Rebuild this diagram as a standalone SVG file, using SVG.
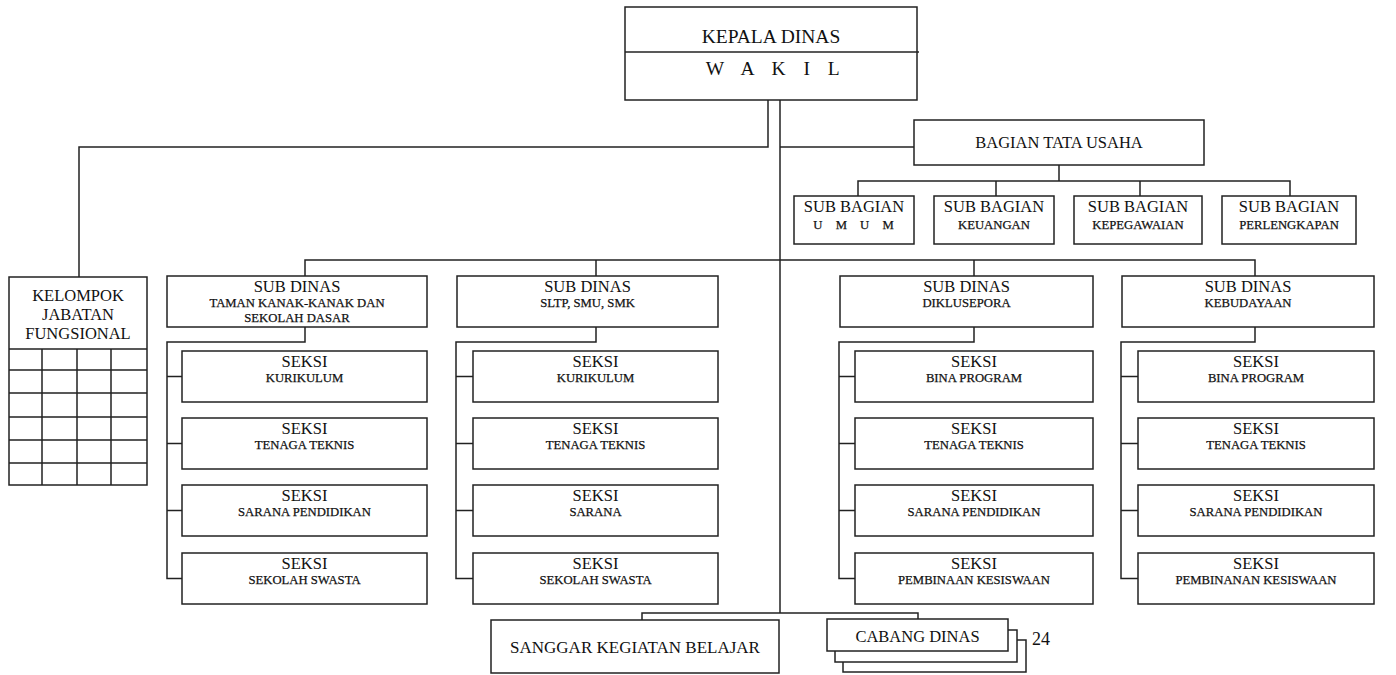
<svg xmlns="http://www.w3.org/2000/svg" width="1396" height="675" viewBox="0 0 1396 675">
<style>
.b{fill:#fff;stroke:#222;stroke-width:1.5}
.l{fill:none;stroke:#222;stroke-width:1.5}
text{font-family:"Liberation Serif","Times New Roman",serif;fill:#111;text-anchor:middle}
.t{font-size:16.5px}
.s{font-size:12.7px;stroke:#111;stroke-width:0.25}
.h{font-size:19.5px}
</style>
<rect width="1396" height="675" fill="#fff"/>
<g id="connectors" class="l">
<path d="M768 100V147H79V277"/>
<path d="M780 100V613"/>
<path d="M780 147H914"/>
<path d="M1059 165V181M858 196V181H1290V196M996 181V196M1140 181V196"/>
<path d="M305 276V260H1255V276M596 260V276M974 260V276"/>
<path d="M305 327V342H167V578.5H182M167 376.5H182M167 443.5H182M167 510.5H182"/>
<path d="M596 327V342H456V578.5H473M456 376.5H473M456 443.5H473M456 510.5H473"/>
<path d="M974 327V342H839V578.5H855M839 376.5H855M839 443.5H855M839 510.5H855"/>
<path d="M1255 327V342H1121V578.5H1138M1121 376.5H1138M1121 443.5H1138M1121 510.5H1138"/>
<path d="M642 620V613H918V619"/>
</g>
<g id="kepala">
<rect class="b" x="625" y="7" width="292" height="93"/>
<line class="l" x1="625" y1="52" x2="919" y2="52"/>
<text class="h" x="771" y="43">KEPALA DINAS</text>
<text class="h" x="776" y="75" style="letter-spacing:6.5px">W A K I L</text>
</g>
<g id="tatausaha">
<rect class="b" x="914" y="120" width="290" height="45"/>
<text class="t" x="1059" y="148">BAGIAN TATA USAHA</text>
</g>
<g id="sb-umum">
<rect class="b" x="794" y="196" width="120" height="48"/>
<text class="t" x="854" y="212">SUB BAGIAN</text>
<text class="s" x="856" y="229" style="letter-spacing:5px">U M U M</text>
</g>
<g id="sb-keuangan">
<rect class="b" x="934" y="196" width="120" height="48"/>
<text class="t" x="994" y="212">SUB BAGIAN</text>
<text class="s" x="994" y="229">KEUANGAN</text>
</g>
<g id="sb-kepegawaian">
<rect class="b" x="1074" y="196" width="128" height="48"/>
<text class="t" x="1138" y="212">SUB BAGIAN</text>
<text class="s" x="1138" y="229">KEPEGAWAIAN</text>
</g>
<g id="sb-perlengkapan">
<rect class="b" x="1222" y="196" width="134" height="48"/>
<text class="t" x="1289" y="212">SUB BAGIAN</text>
<text class="s" x="1289" y="229">PERLENGKAPAN</text>
</g>
<g id="kelompok">
<rect class="b" x="9" y="277" width="138" height="208"/>
<path class="l" d="M9 349H147M9 370H147M9 393H147M9 417H147M9 440H147M9 463H147M42 349V485M77 349V485M111 349V485"/>
<text class="t" x="78" y="301">KELOMPOK</text>
<text class="t" x="78" y="320">JABATAN</text>
<text class="t" x="78" y="339">FUNGSIONAL</text>
</g>
<g id="sd-tk">
<rect class="b" x="167" y="276" width="260" height="51"/>
<text class="t" x="297" y="292">SUB DINAS</text>
<text class="s" x="297" y="307">TAMAN KANAK-KANAK DAN</text>
<text class="s" x="297" y="322">SEKOLAH DASAR</text>
</g>
<g id="sd-sltp">
<rect class="b" x="457" y="276" width="261" height="51"/>
<text class="t" x="587.5" y="292">SUB DINAS</text>
<text class="s" x="587.5" y="307">SLTP, SMU, SMK</text>
</g>
<g id="sd-diklusepora">
<rect class="b" x="840" y="276" width="253" height="51"/>
<text class="t" x="966.5" y="292">SUB DINAS</text>
<text class="s" x="966.5" y="307">DIKLUSEPORA</text>
</g>
<g id="sd-kebudayaan">
<rect class="b" x="1122" y="276" width="252" height="51"/>
<text class="t" x="1248" y="292">SUB DINAS</text>
<text class="s" x="1248" y="307">KEBUDAYAAN</text>
</g>
<g id="tk-1"><rect class="b" x="182" y="351" width="245" height="51"/><text class="t" x="304.5" y="367">SEKSI</text><text class="s" x="304.5" y="382">KURIKULUM</text></g>
<g id="tk-2"><rect class="b" x="182" y="418" width="245" height="51"/><text class="t" x="304.5" y="434">SEKSI</text><text class="s" x="304.5" y="449">TENAGA TEKNIS</text></g>
<g id="tk-3"><rect class="b" x="182" y="485" width="245" height="51"/><text class="t" x="304.5" y="501">SEKSI</text><text class="s" x="304.5" y="516">SARANA PENDIDIKAN</text></g>
<g id="tk-4"><rect class="b" x="182" y="553" width="245" height="51"/><text class="t" x="304.5" y="569">SEKSI</text><text class="s" x="304.5" y="584">SEKOLAH  SWASTA</text></g>
<g id="sl-1"><rect class="b" x="473" y="351" width="245" height="51"/><text class="t" x="595.5" y="367">SEKSI</text><text class="s" x="595.5" y="382">KURIKULUM</text></g>
<g id="sl-2"><rect class="b" x="473" y="418" width="245" height="51"/><text class="t" x="595.5" y="434">SEKSI</text><text class="s" x="595.5" y="449">TENAGA TEKNIS</text></g>
<g id="sl-3"><rect class="b" x="473" y="485" width="245" height="51"/><text class="t" x="595.5" y="501">SEKSI</text><text class="s" x="595.5" y="516">SARANA</text></g>
<g id="sl-4"><rect class="b" x="473" y="553" width="245" height="51"/><text class="t" x="595.5" y="569">SEKSI</text><text class="s" x="595.5" y="584">SEKOLAH SWASTA</text></g>
<g id="dk-1"><rect class="b" x="855" y="351" width="238" height="51"/><text class="t" x="974" y="367">SEKSI</text><text class="s" x="974" y="382">BINA PROGRAM</text></g>
<g id="dk-2"><rect class="b" x="855" y="418" width="238" height="51"/><text class="t" x="974" y="434">SEKSI</text><text class="s" x="974" y="449">TENAGA TEKNIS</text></g>
<g id="dk-3"><rect class="b" x="855" y="485" width="238" height="51"/><text class="t" x="974" y="501">SEKSI</text><text class="s" x="974" y="516">SARANA PENDIDIKAN</text></g>
<g id="dk-4"><rect class="b" x="855" y="553" width="238" height="51"/><text class="t" x="974" y="569">SEKSI</text><text class="s" x="974" y="584">PEMBINAAN KESISWAAN</text></g>
<g id="kb-1"><rect class="b" x="1138" y="351" width="236" height="51"/><text class="t" x="1256" y="367">SEKSI</text><text class="s" x="1256" y="382">BINA PROGRAM</text></g>
<g id="kb-2"><rect class="b" x="1138" y="418" width="236" height="51"/><text class="t" x="1256" y="434">SEKSI</text><text class="s" x="1256" y="449">TENAGA TEKNIS</text></g>
<g id="kb-3"><rect class="b" x="1138" y="485" width="236" height="51"/><text class="t" x="1256" y="501">SEKSI</text><text class="s" x="1256" y="516">SARANA PENDIDIKAN</text></g>
<g id="kb-4"><rect class="b" x="1138" y="553" width="236" height="51"/><text class="t" x="1256" y="569">SEKSI</text><text class="s" x="1256" y="584">PEMBINANAN KESISWAAN</text></g>
<g id="sanggar">
<rect class="b" x="491" y="620" width="288" height="53"/>
<text x="635" y="653" style="font-size:17px">SANGGAR KEGIATAN BELAJAR</text>
</g>
<g id="cabang">
<rect class="b" x="843" y="640" width="183" height="32"/>
<rect class="b" x="835" y="630" width="182" height="32"/>
<rect class="b" x="827" y="619" width="181" height="32"/>
<text x="917.5" y="642" style="font-size:16.5px">CABANG DINAS</text>
<text x="1041" y="645" style="font-size:18px">24</text>
</g>
</svg>
